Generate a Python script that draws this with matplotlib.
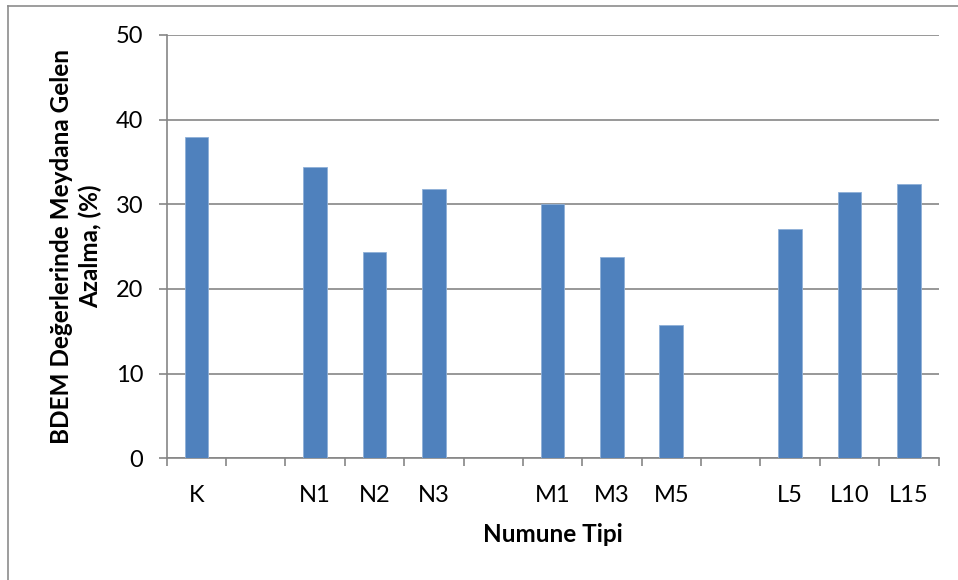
import matplotlib
matplotlib.use("Agg")
import matplotlib.pyplot as plt
from matplotlib.lines import Line2D
import numpy as np

categories = ["K", "", "N1", "N2", "N3", "", "M1", "M3", "M5", "", "L5", "L10", "L15"]
values = [37.9, None, 34.4, 24.4, 31.8, None, 30.05, 23.75, 15.75, None, 27.1, 31.45, 32.35]
y_ticks = [0, 10, 20, 30, 40, 50]
y_label = "BDEM Değerlerinde Meydana Gelen\nAzalma, (%)"
x_label = "Numune Tipi"

plt.rcParams['font.family'] = ['Lato', 'DejaVu Sans']

W, H = 958, 580
fig = plt.figure(figsize=(W / 100, H / 100), dpi=100)
ax_l, ax_r, ax_b, ax_t = 166.7, 938.5, 458.3, 35.0
ax = fig.add_axes([ax_l / W, 1 - ax_b / H, (ax_r - ax_l) / W, (ax_b - ax_t) / H])

grid_c = "#868686"
bar_c = "#4F81BD"

x = np.arange(len(categories))
for xi, v in zip(x, values):
    if v is not None:
        ax.bar(xi, v, width=0.4, color=bar_c, edgecolor="#8fb0d8", linewidth=0.6, zorder=3)

ax.set_xlim(-0.5, len(categories) - 0.5)
ax.set_ylim(0, 50)
ax.set_yticks(y_ticks)
ax.set_yticklabels([str(t) for t in y_ticks], fontsize=17)
ax.yaxis.grid(True, color=grid_c, linewidth=1.2, zorder=0)
ax.set_axisbelow(True)

ax.set_xticks(np.arange(-0.5, len(categories)), minor=False)
ax.set_xticklabels([])
ax.set_xticks(x, minor=True)
ax.set_xticklabels(categories, minor=True, fontsize=17)
ax.tick_params(axis="x", which="major", direction="out", length=6, width=1.2, color=grid_c)
ax.tick_params(axis="x", which="minor", length=0, pad=19)
ax.tick_params(axis="y", direction="out", length=6, width=1.2, color=grid_c, pad=11)

for s in ["top", "right"]:
    ax.spines[s].set_visible(False)
for s in ["left", "bottom"]:
    ax.spines[s].set_color(grid_c)
    ax.spines[s].set_linewidth(1.2)

# axis titles
fig.text(76 / W, 1 - ((ax_b + ax_t) / 2) / H, y_label, rotation=90, ha="center", va="center",
         multialignment="center", fontsize=17.5, fontweight="bold", linespacing=1.3)
fig.text(((ax_l + ax_r) / 2) / W, 1 - 534 / H, x_label, ha="center", va="center",
         fontsize=17.5, fontweight="bold")

# outer chart border (top and left visible)
fig.add_artist(Line2D([8 / W, 1.0], [1 - 5.5 / H, 1 - 5.5 / H], transform=fig.transFigure, color="#8c8c8c", linewidth=1.2))
fig.add_artist(Line2D([8 / W, 8 / W], [0.0, 1 - 5.5 / H], transform=fig.transFigure, color="#8c8c8c", linewidth=1.2))

fig.savefig("out.png", dpi=100, facecolor="white")
